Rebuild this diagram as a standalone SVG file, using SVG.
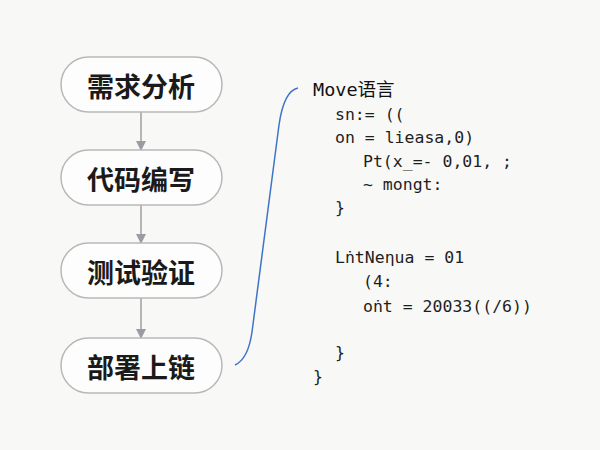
<svg xmlns="http://www.w3.org/2000/svg" width="600" height="450" viewBox="0 0 600 450">
<defs>
<marker id="ah" markerWidth="10" markerHeight="10" refX="9" refY="5" orient="auto" markerUnits="userSpaceOnUse">
<path d="M0,0 L10,5 L0,10 Z" fill="#9a9ca3"/>
</marker>
<style>
.node rect{fill:#fdfdfd;stroke:#b8b8b8;stroke-width:1.5}
.node text{font-family:"Noto Sans CJK SC","Noto Sans",sans-serif;font-size:27px;font-weight:700;fill:#1a1a1a;text-anchor:middle;dominant-baseline:central}
.conn line{stroke:#a0a0a0;stroke-width:1.5}
.code{font-family:"DejaVu Sans Mono","Liberation Mono",monospace;font-size:16.5px;fill:#1e1e1e}
.title{font-family:"DejaVu Sans Mono","Noto Sans CJK SC",monospace;font-size:18.5px;fill:#111}
</style>
</defs>
<rect width="600" height="450" fill="#f8f8f7"/>
<g id="connectors" class="conn">
<line x1="141" y1="112" x2="141" y2="150" marker-end="url(#ah)"/>
<line x1="141" y1="205" x2="141" y2="243" marker-end="url(#ah)"/>
<line x1="141" y1="298" x2="141" y2="338" marker-end="url(#ah)"/>
<path d="M235,365 C246,360 250,346 252,332 L279,125 C282,104 288,90 298,88" fill="none" stroke="#3f74c8" stroke-width="1.5"/>
</g>
<g id="n1" class="node"><rect x="61" y="57" width="161" height="55" rx="27.5"/><text x="141" y="85">需求分析</text></g>
<g id="n2" class="node"><rect x="61" y="150" width="161" height="55" rx="27.5"/><text x="141" y="178">代码编写</text></g>
<g id="n3" class="node"><rect x="61" y="243" width="161" height="55" rx="27.5"/><text x="141" y="271">测试验证</text></g>
<g id="n4" class="node"><rect x="61" y="338" width="161" height="55" rx="27.5"/><text x="141" y="366">部署上链</text></g>
<g id="code">
<text class="title" x="313" y="96">Move语言</text>
<text class="code" x="335" y="120">sn:= ((</text>
<text class="code" x="335" y="143">on = lieasa,0)</text>
<text class="code" x="363" y="167">Pt(x_=- 0,01, ;</text>
<text class="code" x="363" y="190">~ mongt:</text>
<text class="code" x="335" y="213">}</text>
<text class="code" x="335" y="263">LṅtNeηua = 01</text>
<text class="code" x="363" y="287">(4:</text>
<text class="code" x="363" y="312">oṅt = 20033((/6))</text>
<text class="code" x="335" y="358">}</text>
<text class="code" x="313" y="382">}</text>
</g>
</svg>
